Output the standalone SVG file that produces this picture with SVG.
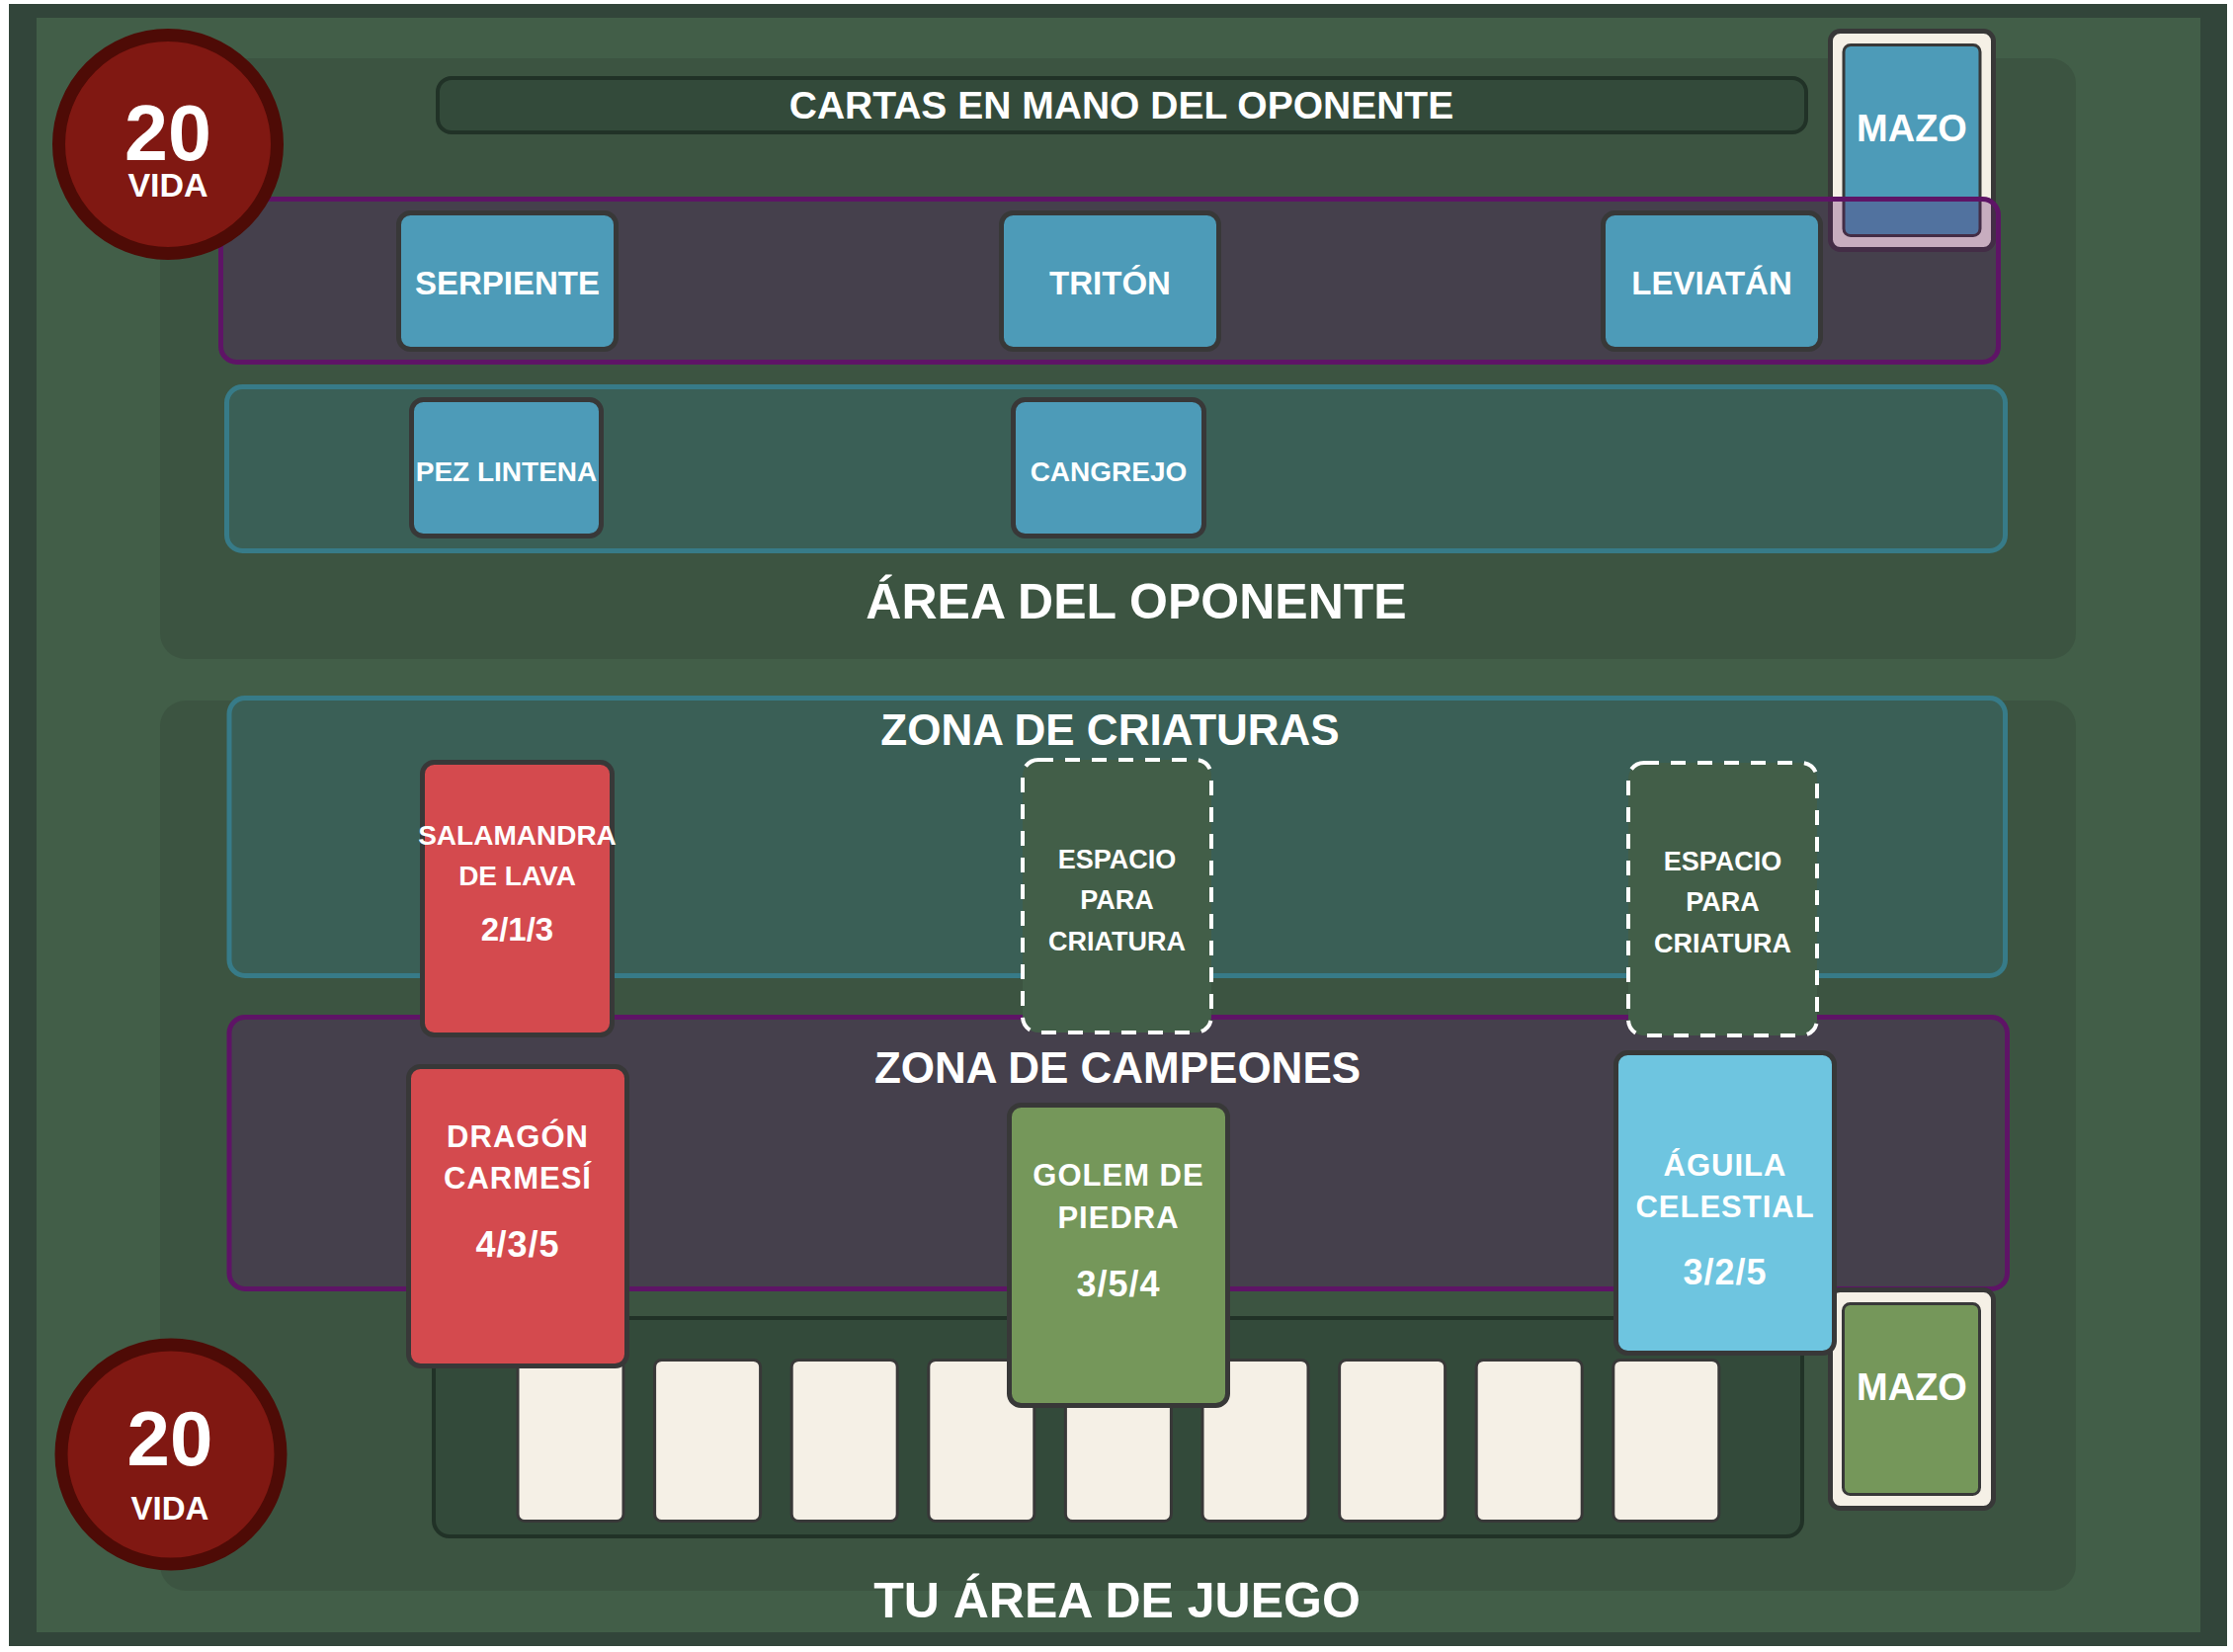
<svg xmlns="http://www.w3.org/2000/svg" width="2260" height="1672" viewBox="0 0 2260 1672">
<style>
text{font-family:"Liberation Sans",Arial,Helvetica,sans-serif;font-weight:bold;fill:#ffffff;text-anchor:middle}
.panel{fill:#3c5441}
.bar{fill:#334a3a;stroke:#213227;stroke-width:4}
.pz{fill:#5e1466;fill-opacity:0.3;stroke:#5e1466;stroke-width:5}
.tz{fill:#377b88;fill-opacity:0.3;stroke:#377b88;stroke-width:5}
.card{stroke:#383838;stroke-width:5}
.blue{fill:#4d9bb8}.red{fill:#d44a4e}.green{fill:#75975a}.sky{fill:#6ec5e0}
.hand{fill:#f5f0e6;stroke:#383838;stroke-width:3}
.slot{fill:#425e48;stroke:#ffffff;stroke-width:4;stroke-dasharray:15 12}
.life{fill:#801812;stroke:#4e0b06;stroke-width:13}
.deck{fill:#f5f0e6;stroke:#383838;stroke-width:5}
.deckin{stroke:#383838;stroke-width:3}
.t33{font-size:33px}.t28{font-size:28px}.t27{font-size:27px}
.ch{font-size:31px;letter-spacing:1px}.st{font-size:36px;letter-spacing:1px}
.title{font-size:50px}.zt{font-size:44px}
</style>
<rect x="0" y="0" width="2260" height="1672" fill="#ffffff"/>
<rect x="9" y="4" width="2245" height="1662" fill="#32453a"/>
<rect x="37" y="18" width="2190" height="1634" fill="#425e48"/>

<g id="opponent-area">
<rect class="panel" x="162" y="59" width="1939" height="608" rx="26"/>
</g>
<g id="player-area">
<rect class="panel" x="162" y="709" width="1939" height="901" rx="26"/>
</g>

<g id="opp-hand-bar">
<rect class="bar" x="443" y="79" width="1385" height="55" rx="14"/>
<text x="1135" y="120" style="font-size:39px">CARTAS EN MANO DEL OPONENTE</text>
</g>

<g id="opp-deck">
<rect class="deck" x="1852.5" y="31.5" width="165" height="221" rx="10"/>
<rect class="deckin blue" x="1866" y="45.5" width="138" height="193" rx="7"/>
<text x="1935" y="143" style="font-size:38px">MAZO</text>
</g>

<g id="opp-champion-zone">
<rect class="pz" x="223.5" y="201.5" width="1799" height="165" rx="16"/>
</g>
<g id="card-serpiente">
<rect class="card blue" x="403.5" y="215.5" width="220" height="138" rx="12"/>
<text class="t33" x="513.5" y="298">SERPIENTE</text>
</g>
<g id="card-triton">
<rect class="card blue" x="1013.5" y="215.5" width="220" height="138" rx="12"/>
<text class="t33" x="1123.5" y="298">TRITÓN</text>
</g>
<g id="card-leviatan">
<rect class="card blue" x="1622.5" y="215.5" width="220" height="138" rx="12"/>
<text class="t33" x="1732.5" y="298">LEVIATÁN</text>
</g>

<g id="opp-creature-zone">
<rect class="tz" x="229.5" y="391.5" width="1800" height="166" rx="16"/>
</g>
<g id="card-pez-lintena">
<rect class="card blue" x="416.5" y="404.5" width="192" height="138" rx="12"/>
<text class="t28" x="512.5" y="487">PEZ LINTENA</text>
</g>
<g id="card-cangrejo">
<rect class="card blue" x="1025.5" y="404.5" width="193" height="138" rx="12"/>
<text class="t28" x="1122" y="487">CANGREJO</text>
</g>
<g id="opp-area-label">
<text class="title" x="1150" y="626">ÁREA DEL OPONENTE</text>
</g>

<g id="opp-life">
<circle class="life" cx="170" cy="146" r="110.5"/>
<text x="170" y="162" style="font-size:79px">20</text>
<text x="170" y="199" style="font-size:34px">VIDA</text>
</g>

<g id="creature-zone">
<rect class="tz" x="232" y="706.5" width="1797.5" height="281" rx="16"/>
<text class="zt" x="1123.5" y="754">ZONA DE CRIATURAS</text>
</g>
<g id="champion-zone">
<rect class="pz" x="232" y="1029.5" width="1799.5" height="275" rx="16"/>
<text class="zt" x="1131" y="1096">ZONA DE CAMPEONES</text>
</g>

<g id="hand-tray">
<rect class="bar" x="439" y="1334" width="1385" height="221" rx="16"/>
<rect class="hand" x="524" y="1376.5" width="107" height="163" rx="7"/>
<rect class="hand" x="662.6" y="1376.5" width="107" height="163" rx="7"/>
<rect class="hand" x="801.2" y="1376.5" width="107" height="163" rx="7"/>
<rect class="hand" x="939.8" y="1376.5" width="107" height="163" rx="7"/>
<rect class="hand" x="1078.4" y="1376.5" width="107" height="163" rx="7"/>
<rect class="hand" x="1217" y="1376.5" width="107" height="163" rx="7"/>
<rect class="hand" x="1355.6" y="1376.5" width="107" height="163" rx="7"/>
<rect class="hand" x="1494.2" y="1376.5" width="107" height="163" rx="7"/>
<rect class="hand" x="1632.8" y="1376.5" width="107" height="163" rx="7"/>
</g>

<g id="my-deck">
<rect class="deck" x="1852.5" y="1305.5" width="165" height="221" rx="10"/>
<rect class="deckin green" x="1865.5" y="1319.5" width="138" height="193" rx="7"/>
<text x="1935" y="1417" style="font-size:38px">MAZO</text>
</g>

<g id="card-salamandra">
<rect class="card red" x="427.5" y="771.5" width="192" height="276" rx="12"/>
<text class="t28" x="523.5" y="855">SALAMANDRA</text>
<text class="t28" x="523.5" y="896">DE LAVA</text>
<text x="523.5" y="952" style="font-size:33px">2/1/3</text>
</g>
<g id="slot-1">
<rect class="slot" x="1035" y="769" width="191" height="276" rx="16"/>
<text class="t27" x="1130.5" y="879">ESPACIO</text>
<text class="t27" x="1130.5" y="920">PARA</text>
<text class="t27" x="1130.5" y="962">CRIATURA</text>
</g>
<g id="slot-2">
<rect class="slot" x="1648" y="772" width="191" height="276" rx="16"/>
<text class="t27" x="1743.5" y="881">ESPACIO</text>
<text class="t27" x="1743.5" y="922">PARA</text>
<text class="t27" x="1743.5" y="964">CRIATURA</text>
</g>

<g id="card-dragon">
<rect class="card red" x="413.5" y="1079.5" width="221" height="303" rx="12"/>
<text class="ch" x="524" y="1161">DRAGÓN</text>
<text class="ch" x="524" y="1203">CARMESÍ</text>
<text class="st" x="524" y="1272">4/3/5</text>
</g>
<g id="card-golem">
<rect class="card green" x="1021.5" y="1118.5" width="221" height="304" rx="12"/>
<text class="ch" x="1132" y="1200">GOLEM DE</text>
<text class="ch" x="1132" y="1243">PIEDRA</text>
<text class="st" x="1132" y="1312">3/5/4</text>
</g>
<g id="card-aguila">
<rect class="card sky" x="1635.5" y="1065.5" width="221" height="304" rx="12"/>
<text class="ch" x="1746" y="1190">ÁGUILA</text>
<text class="ch" x="1746" y="1232">CELESTIAL</text>
<text class="st" x="1746" y="1300">3/2/5</text>
</g>

<g id="my-life">
<circle class="life" cx="173" cy="1472" r="111"/>
<text x="172" y="1483" style="font-size:78px">20</text>
<text x="172" y="1538" style="font-size:33px">VIDA</text>
</g>
<g id="my-area-label">
<text class="title" x="1130.5" y="1637">TU ÁREA DE JUEGO</text>
</g>
<g id="connectors"/>
</svg>
